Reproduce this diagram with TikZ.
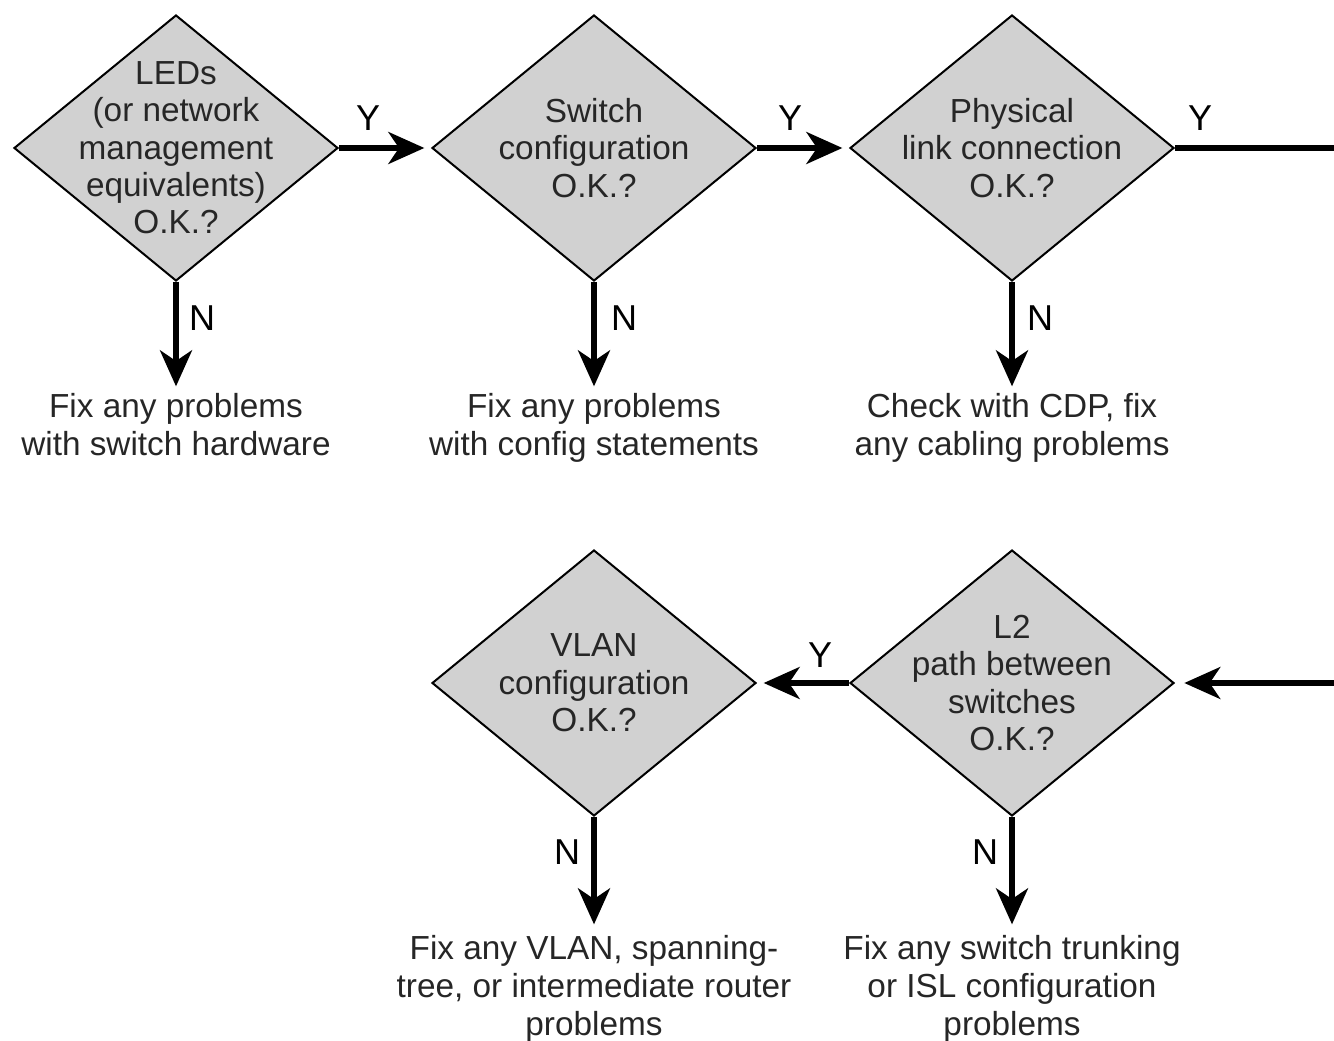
\documentclass[tikz,border=0pt]{standalone}
\usepackage{fontspec}
\setmainfont{Liberation Sans}
\usetikzlibrary{shapes.geometric,arrows.meta}
\begin{document}
\begin{tikzpicture}[x=0.75pt,y=-0.75pt,
  decision/.style={diamond, draw=black, line width=1.5pt, fill=black!18,
    minimum width=243pt, minimum height=199.5pt, inner sep=0pt},
  dtext/.style={align=center, inner sep=0pt, text=black!85,
    font=\fontsize{25}{28}\selectfont},
  action/.style={align=center, inner sep=0pt, text=black!85,
    font=\fontsize{25}{28.5}\selectfont},
  yn/.style={inner sep=0pt, font=\fontsize{27}{30}\selectfont},
  flow/.style={line width=3.8pt,
    -{Stealth[length=27pt, width=24pt, inset=8pt]}},
  plain/.style={line width=3.8pt}
]
\useasboundingbox (0,0) rectangle (1334,1041);

% decision diamonds
\node[decision] (leds) at (176,148) {};
\node[decision] (conf) at (594,148) {};
\node[decision] (phys) at (1012,148) {};
\node[decision] (vlan) at (594,683) {};
\node[decision] (ltwo) at (1012,683) {};

\node[dtext] (ledsT) at (leds.center) {LEDs\\(or network\\management\\equivalents)\\O.K.?};
\node[dtext] (confT) at (conf.center) {Switch\\configuration\\O.K.?};
\node[dtext] (physT) at (phys.center) {Physical\\link connection\\O.K.?};
\node[dtext] (vlanT) at (vlan.center) {VLAN\\configuration\\O.K.?};
\node[dtext] (ltwoT) at (ltwo.center) {L2\\path between\\switches\\O.K.?};

% corrective actions
\node[action, anchor=north] (fixhw) at (176,393) {Fix any problems\\with switch hardware};
\node[action, anchor=north] (fixcf) at (594,393) {Fix any problems\\with config statements};
\node[action, anchor=north] (fixcb) at (1012,393) {Check with CDP, fix\\any cabling problems};
\node[action, anchor=north] (fixvl) at (594,935) {Fix any VLAN, spanning-\\tree, or intermediate router\\problems};
\node[action, anchor=north] (fixtr) at (1012,935) {Fix any switch trunking\\or ISL configuration\\problems};

% off-page continuation points
\coordinate (outR) at (1334,148);
\coordinate (inR) at (1334,683);

% yes branches
\draw[flow, shorten >=5pt] (leds.east) -- (conf.west);
\draw[flow, shorten >=5pt] (conf.east) -- (phys.west);
\draw[plain] (phys.east) -- (outR);
\draw[flow, shorten >=7pt] (inR) -- (ltwo.east);
\draw[flow, shorten >=5pt] (ltwo.west) -- (vlan.east);

\node[yn] (y1) at (368,118) {Y};
\node[yn] (y2) at (790,118) {Y};
\node[yn] (y3) at (1200,118) {Y};
\node[yn] (y4) at (820,655) {Y};

% no branches
\draw[flow, shorten >=5pt] (leds.south) -- (fixhw.north);
\draw[flow, shorten >=5pt] (conf.south) -- (fixcf.north);
\draw[flow, shorten >=5pt] (phys.south) -- (fixcb.north);
\draw[flow, shorten >=8pt] (vlan.south) -- (fixvl.north);
\draw[flow, shorten >=8pt] (ltwo.south) -- (fixtr.north);

\node[yn] (n1) at (202,318) {N};
\node[yn] (n2) at (624,318) {N};
\node[yn] (n3) at (1040,318) {N};
\node[yn] (n4) at (567,852) {N};
\node[yn] (n5) at (985,852) {N};
\end{tikzpicture}
\end{document}
